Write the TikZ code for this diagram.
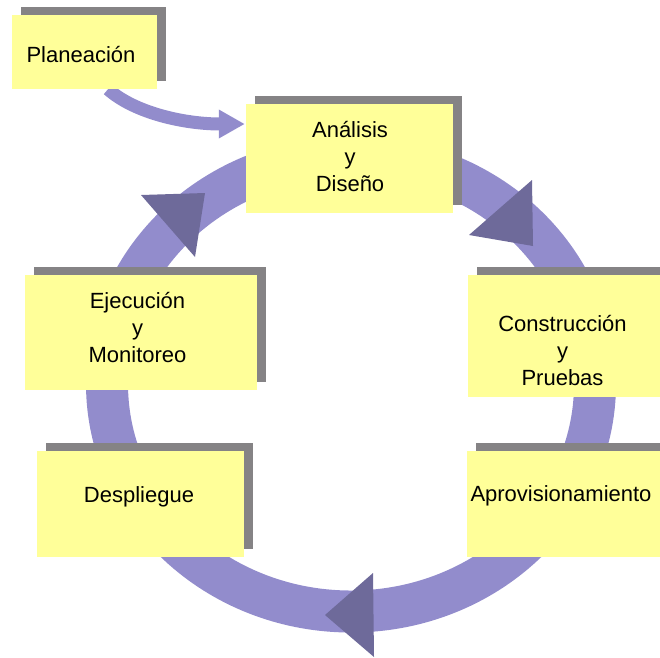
\documentclass[tikz,border=0pt]{standalone}
\usepackage{fontspec}
\setmainfont{Liberation Sans}
\usetikzlibrary{shadows,arrows.meta}
\definecolor{ringfill}{RGB}{146,140,204}
\definecolor{ringtip}{RGB}{110,106,154}
\definecolor{notefill}{RGB}{255,255,153}
\definecolor{noteshade}{RGB}{133,131,133}
\pgfdeclarelayer{back}
\pgfsetlayers{back,main}
% fixed line height so every text block centres the same way
\newcommand{\ls}{\rule[-6.5pt]{0pt}{27pt}}
\begin{document}
\begin{tikzpicture}[x=1pt,y=-1pt,
  note/.style={fill=notefill, inner sep=0pt, draw=none,
    general shadow={fill=noteshade, shadow xshift=8.5pt, shadow yshift=8.5pt}},
  notetext/.style={font=\fontsize{22}{27}\selectfont, align=center, inner sep=0pt, text=black},
  cyclering/.style={draw=ringfill, line width=42pt},
  ringhead/.style={fill=ringtip},
  leadin/.style={draw=ringfill, line width=13pt, -{Triangle[length=26pt,width=27pt]}, color=ringfill}
]
\useasboundingbox (0,0) rectangle (660,657);
\clip (0,0) rectangle (660,657);

% phase cards
\node[note, minimum width=145pt, minimum height=74pt]  (planeacion)   at (84.5,52)   {};
\node[note, minimum width=207pt, minimum height=109pt] (analisis)     at (349.5,158.5) {};
\node[note, minimum width=202pt, minimum height=122pt] (construccion) at (569,336)   {};
\node[note, minimum width=232pt, minimum height=115pt] (ejecucion)    at (141,332.5) {};
\node[note, minimum width=207pt, minimum height=106pt] (despliegue)   at (140.5,504) {};
\node[note, minimum width=203pt, minimum height=106pt] (aprov)        at (568.5,504) {};

% card captions
\node[notetext] (planeacion-t)   at (81,55)     {\ls Planeación};
\node[notetext] (analisis-t)     at (350,157)   {\ls Análisis\\\ls y\\\ls Diseño};
\node[notetext] (construccion-t) at (562.5,351) {\ls Construcción\\\ls y\\\ls Pruebas};
\node[notetext] (ejecucion-t)    at (137.5,328) {\ls Ejecución\\\ls y\\\ls Monitoreo};
\node[notetext] (despliegue-t)   at (139,495)   {\ls Despliegue};
\node[notetext] (aprov-t)        at (561,494)   {\ls Aprovisionamiento};

\begin{pgfonlayer}{back}
  % the cycle ring behind the cards
  \coordinate (hub) at (351,384);
  \draw[cyclering] (hub) ellipse [x radius=244pt, y radius=227.5pt];
  % direction heads on the ring
  \fill[ringhead] (141,195) -- (205,193) -- (195,257) -- cycle;
  \fill[ringhead] (532,180) -- (469,235) -- (533,246) -- cycle;
  \fill[ringhead] (373,573) -- (325,615) -- (374,657) -- cycle;
  % planning feeds into analysis
  \draw[leadin] ([xshift=23.5pt]planeacion.south)
    .. controls +(27,24) and +(-60,0) .. ([xshift=-1pt,yshift=34.5pt]analisis.west);
\end{pgfonlayer}
\end{tikzpicture}
\end{document}
